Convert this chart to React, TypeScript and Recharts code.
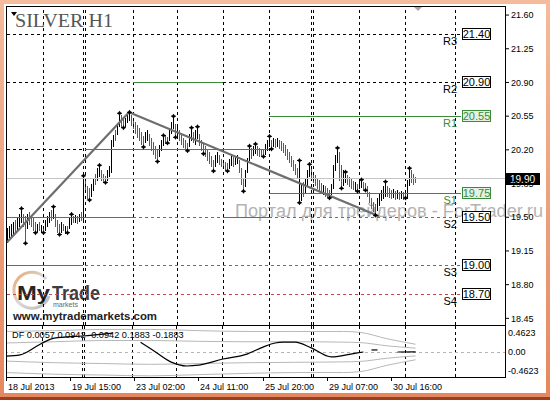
import React from 'react';
import { ComposedChart, Bar, Line, XAxis, YAxis, ReferenceLine } from 'recharts';

// H1 bars (price units)
const highs = [
  19.39, 19.41, 19.43, 19.45, 19.47, 19.49, 19.53, 19.59, 19.53, 19.51,
  19.53, 19.55, 19.51, 19.49, 19.45, 19.43, 19.45, 19.42, 19.41, 19.47,
  19.51, 19.55, 19.58, 19.61, 19.53, 19.47, 19.43, 19.45, 19.43, 19.41,
  19.41, 19.49, 19.53, 19.51, 19.52, 19.51, 19.53, 19.55, 19.93, 19.89,
  19.82, 19.80, 19.85, 19.91, 19.95, 20.01, 20.04, 19.99, 19.95, 19.93,
  19.99, 20.03, 20.30, 20.35, 20.41, 20.47, 20.58, 20.56, 20.53, 20.53,
  20.57, 20.59, 20.56, 20.53, 20.49, 20.46, 20.43, 20.39, 20.34, 20.39,
  20.41, 20.36, 20.32, 20.28, 20.24, 20.20, 20.25, 20.30, 20.35, 20.34,
  20.33, 20.41, 20.49, 20.55, 20.47, 20.45, 20.41, 20.36, 20.32, 20.30,
  20.27, 20.36, 20.43, 20.39, 20.41, 20.44, 20.36, 20.30, 20.26, 20.24,
  20.20, 20.18, 20.14, 20.09, 20.15, 20.18, 20.15, 20.11, 20.09, 20.07,
  20.06, 20.11, 20.15, 20.13, 20.14, 20.15, 20.09, 20.01, 19.91, 19.99,
  20.12, 20.24, 20.22, 20.24, 20.26, 20.24, 20.22, 20.20, 20.20, 20.26,
  20.30, 20.34, 20.30, 20.32, 20.31, 20.32, 20.30, 20.29, 20.27, 20.25,
  20.21, 20.18, 20.14, 20.09, 20.05, 20.01, 20.09, 19.83, 19.87, 19.91,
  19.99, 20.05, 20.01, 19.97, 19.94, 19.91, 19.89, 19.86, 19.83, 19.82,
  19.80, 19.78, 19.85, 20.04, 20.15, 20.22, 20.18, 20.04, 19.99, 19.97,
  19.94, 19.92, 19.90, 19.88, 19.87, 19.85, 19.88, 19.89, 19.87, 19.86,
  19.82, 19.76, 19.70, 19.66, 19.64, 19.70, 19.74, 19.78, 19.82, 19.87,
  19.82, 19.80, 19.78, 19.79, 19.77, 19.78, 19.76, 19.77, 19.76, 19.76,
  19.89, 20.01, 19.99, 19.95, 19.92,
];
const lows = [
  19.24, 19.29, 19.31, 19.33, 19.35, 19.37, 19.41, 19.45, 19.41, 19.23,
  19.39, 19.43, 19.41, 19.37, 19.34, 19.36, 19.37, 19.35, 19.34, 19.37,
  19.41, 19.45, 19.47, 19.49, 19.41, 19.35, 19.32, 19.35, 19.37, 19.34,
  19.34, 19.39, 19.43, 19.45, 19.45, 19.44, 19.46, 19.47, 19.47, 19.76,
  19.70, 19.68, 19.72, 19.78, 19.85, 19.89, 19.93, 19.89, 19.87, 19.86,
  19.89, 19.93, 19.97, 20.24, 20.30, 20.36, 20.45, 20.44, 20.43, 20.45,
  20.49, 20.51, 20.46, 20.43, 20.37, 20.33, 20.30, 20.26, 20.23, 20.28,
  20.30, 20.25, 20.20, 20.16, 20.12, 20.08, 20.14, 20.20, 20.25, 20.27,
  20.27, 20.30, 20.37, 20.43, 20.33, 20.34, 20.30, 20.26, 20.23, 20.21,
  20.19, 20.24, 20.30, 20.28, 20.26, 20.32, 20.25, 20.20, 20.16, 20.14,
  20.09, 20.06, 20.03, 19.98, 20.03, 20.07, 20.05, 20.03, 20.01, 19.99,
  19.98, 20.01, 20.04, 20.03, 20.05, 20.06, 19.97, 19.85, 19.77, 19.82,
  19.97, 20.09, 20.12, 20.15, 20.17, 20.15, 20.14, 20.14, 20.13, 20.16,
  20.20, 20.24, 20.21, 20.24, 20.23, 20.24, 20.22, 20.20, 20.18, 20.15,
  20.11, 20.07, 20.03, 19.99, 19.95, 19.91, 19.65, 19.68, 19.72, 19.76,
  19.82, 19.93, 19.91, 19.87, 19.83, 19.80, 19.78, 19.75, 19.74, 19.72,
  19.71, 19.70, 19.74, 19.80, 19.99, 20.07, 19.89, 19.80, 19.84, 19.87,
  19.85, 19.82, 19.80, 19.79, 19.78, 19.77, 19.80, 19.81, 19.79, 19.78,
  19.72, 19.66, 19.60, 19.56, 19.52, 19.58, 19.63, 19.68, 19.70, 19.72,
  19.72, 19.71, 19.70, 19.71, 19.69, 19.70, 19.69, 19.70, 19.69, 19.70,
  19.70, 19.84, 19.87, 19.85, 19.87,
];
// u = bullish (black), d = bearish (red)
const dirs = [
  'uuuuduuudd', 'uddddududu', 'uududddudu', 'duudududud', 'dduuduuddd',
  'uuuuduuddu', 'uudddddddu', 'uddddduuud', 'duuududddd', 'duuduudddd',
  'dddduudddd', 'duuduudddu', 'uuduuddddu', 'uudududddd', 'dddddduudu',
  'uuddddddud', 'dduuuudduu', 'dddduduudd', 'ddddduuuuu', 'dddudududd',
  'uuddd',
].join('');

const upFractals = [7, 23, 32, 38, 46, 56, 61, 78, 83, 92, 95, 121, 124, 131, 146, 151, 165, 169, 177, 189, 201];
const downFractals = [9, 14, 18, 26, 30, 41, 49, 58, 68, 75, 80, 84, 90, 98, 103, 110, 118, 128, 132, 146, 161, 167, 175, 179, 184, 199];

// trend lines: [fromBar, fromPrice, toBar, toPrice]
const trendLines = [
  [0, 19.24, 61, 20.59],
  [61, 20.59, 186, 19.51],
];

const pivotNames = ['R3', 'R2', 'R1', 'S1', 'S2', 'S3', 'S4'];
const pivotLevels = [21.4, 20.9, 20.55, 19.75, 19.5, 19.0, 18.7];
// [level, fromBar, toBar, style]  k = black dashed, g = green, r = red dashed
const pivotSegments: [number, number, number, string][] = [
  [21.4, 0, 227, 'k'],
  [20.9, 0, 63, 'k'], [20.9, 63, 108, 'g'], [20.9, 108, 227, 'k'],
  [20.55, 131, 227, 'g'],
  [20.2, 0, 39, 'k'], [20.2, 39, 131, 'g'],
  [19.75, 131, 227, 'g'],
  [19.5, 0, 63, 'g'], [19.5, 63, 108, 'r'], [19.5, 108, 131, 'g'], [19.5, 131, 227, 'r'],
  [19.0, 0, 38, 'g'], [19.0, 39, 227, 'r'],
  [18.7, 0, 227, 'r'],
];
const bidPrice = 19.9;
const dayBreaks = [18, 38, 39, 63, 85, 108, 131, 152, 153, 176, 199, 224];
const priceTicks = [18.45, 18.8, 19.15, 19.5, 19.85, 20.2, 20.55, 20.9, 21.25, 21.6];

const dateTickIdx = [0, 32, 64, 96, 128, 160, 192];
const dateLabels = ['18 Jul 2013', '19 Jul 15:00', '23 Jul 02:00', '24 Jul 11:00', '25 Jul 20:00', '29 Jul 07:00', '30 Jul 16:00'];

// DF indicator, pieces of the main line: [bar, value]
const dfSegments: [number, number][][] = [
  [[0, -0.1], [7, -0.07], [17, 0.19], [24, 0.34], [38, 0.39], [53, 0.46]],
  [[67, 0.24], [73, 0.05], [82, -0.24], [90, -0.34], [96, -0.32], [108, -0.17], [120, -0.05], [128, 0.12],
   [134, 0.22], [138, 0.24], [144, 0.24], [152, 0.1], [162, -0.12], [175, -0.02], [178, 0.0]],
  [[182, 0.05], [185, 0.05]],
  [[195, 0.0], [204, 0.0057]],
];
const bandIdx = [0, 24, 48, 72, 96, 120, 144, 168, 176, 190, 204];
const bandOuterUp = [0.5, 0.52, 0.55, 0.55, 0.52, 0.5, 0.5, 0.5, 0.48, 0.32, 0.1883];
const bandInnerUp = [0.22, 0.25, 0.28, 0.28, 0.26, 0.25, 0.25, 0.24, 0.23, 0.15, 0.0942];
const bandInnerDn = [-0.22, -0.26, -0.28, -0.3, -0.28, -0.26, -0.25, -0.24, -0.23, -0.15, -0.0942];
const bandOuterDn = [-0.5, -0.54, -0.56, -0.58, -0.55, -0.52, -0.5, -0.5, -0.48, -0.32, -0.1883];
const subTicks = [-0.4623, 0, 0.4623];

const SLOTS = 250;
const FONT = '"Liberation Sans", Arial, sans-serif';
const GREEN = '#3a8a3a';
const RED = '#c24a4a';
const BEAR = '#d02828';

const mainData = Array.from({ length: SLOTS }, (_, i) => {
  const row: any = { i };
  if (i < highs.length) {
    row.range = [lows[i], highs[i]];
    row.up = dirs[i] === 'u';
  }
  if (upFractals.includes(i)) row.fu = highs[i];
  if (downFractals.includes(i)) row.fd = lows[i];
  trendLines.forEach((t, k) => {
    if (t[0] === i) row['t' + k] = t[1];
    if (t[2] === i) row['t' + k] = t[3];
  });
  return row;
});

const subData = Array.from({ length: SLOTS }, (_, i) => {
  const row: any = { i };
  dfSegments.forEach((seg, k) => seg.forEach(([b, v]) => { if (b === i) row['df' + k] = v; }));
  const k = bandIdx.indexOf(i);
  if (k >= 0) {
    row.ou = bandOuterUp[k];
    row.iu = bandInnerUp[k];
    row.id = bandInnerDn[k];
    row.od = bandOuterDn[k];
  }
  return row;
});

function HLBar(props: any) {
  const { x, y, width, height, payload } = props;
  if (!payload || !payload.range || !Number.isFinite(y)) return <g />;
  const cx = Math.floor(x + width / 2) + 0.5;
  const top = Math.min(y, y + height);
  const bottom = Math.max(y, y + height);
  return <line x1={cx} x2={cx} y1={top} y2={bottom + 1} stroke={payload.up ? '#000' : BEAR} shapeRendering="crispEdges" />;
}

function fractalDot(p: any) {
  const key = 'f' + p.index;
  if (p.value == null || !Number.isFinite(p.cy)) return <g key={key} />;
  const cx = Math.floor(p.cx) + 0.5;
  const cy = p.cy;
  return (
    <g key={key}>
      <path d={`M${cx},${cy - 2.5} L${cx + 1.8},${cy} L${cx},${cy + 2.5} L${cx - 1.8},${cy} Z`} fill="#000" />
      <line x1={cx - 2.5} x2={cx + 2.5} y1={cy} y2={cy} stroke="#000" />
    </g>
  );
}

const pivotTag = (name: string, level: number, green: boolean) => (props: any) => {
  const vb = props.viewBox || {};
  const xEnd = vb.x + (vb.width || 0);
  const yc = Math.round(vb.y);
  const color = green ? GREEN : '#000';
  return (
    <g>
      <rect x={xEnd + 1.5} y={yc - 5.5} width={28} height={11} fill={green ? '#e4f2e4' : '#fff'} stroke={color} />
      <text x={xEnd + 15.5} y={yc + 4} textAnchor="middle" fontSize={11} fontFamily={FONT} fill={color}>{level.toFixed(2)}</text>
      <text x={xEnd - 4} y={yc + 11} textAnchor="end" fontSize={11} fontFamily={FONT} fill={color}>{name}</text>
    </g>
  );
};

const bidTag = (props: any) => {
  const vb = props.viewBox || {};
  const x = vb.x + (vb.width || 0);
  const yc = Math.round(vb.y);
  return (
    <g>
      <rect x={x} y={yc - 6} width={34} height={12} fill="#000" />
      <text x={x + 4} y={yc + 4} fontSize={10} fontFamily={FONT} fill="#fff">{bidPrice.toFixed(2)}</text>
    </g>
  );
};

function DateTick(props: any) {
  const { x, y, payload } = props;
  const label = dateLabels[dateTickIdx.indexOf(payload.value)];
  const px = Math.floor(x) + 0.5;
  return (
    <g>
      <line x1={px} x2={px} y1={y} y2={y + 4} stroke="#000" />
      <text x={px + 1.5} y={y + 13} fontSize={9} fontFamily={FONT} fill="#000">{label}</text>
    </g>
  );
}

const segStyle = (s: string) =>
  s === 'g' ? { stroke: GREEN } : s === 'r' ? { stroke: RED, strokeDasharray: '3 3' } : { stroke: '#000', strokeDasharray: '3 3' };

export default function App() {
  return (
    <div style={{ position: 'relative', width: 550, height: 400, overflow: 'hidden', background: 'linear-gradient(#f4bb9c, #e5875f)' }}>
      <style>{'body{margin:0}'}</style>
      <div style={{ position: 'absolute', left: 4, top: 4, width: 542, height: 389, background: '#fff' }} />
      <div style={{ position: 'absolute', left: 0, bottom: 0, width: 550, height: 3, background: '#9b3f1f' }} />

      {/* logo and watermark under the chart */}
      <svg width={550} height={400} style={{ position: 'absolute', left: 0, top: 0 }}>
        <defs>
          <linearGradient id="ring" x1="0" y1="0" x2="1" y2="1">
            <stop offset="0" stopColor="#e9a66f" />
            <stop offset="0.5" stopColor="#d9d9d9" />
            <stop offset="1" stopColor="#b9b9b9" />
          </linearGradient>
        </defs>
        <text x={235} y={217} fontSize={18} fontFamily={FONT} fill="#b4b4b4" textLength={308} lengthAdjust="spacingAndGlyphs">
          Портал для трейдеров - ForTrader.ru
        </text>
        <path d="M46,279 A18,18 0 1,0 49,296" fill="none" stroke="url(#ring)" strokeWidth={3} />
        <text x={17} y={300} fontSize={21} fontWeight="bold" fontFamily={FONT} fill="#262626" textLength={33} lengthAdjust="spacingAndGlyphs">My</text>
        <text x={52} y={300} fontSize={21} fontWeight="bold" fontFamily={FONT} fill="#3c3c3c" textLength={48} lengthAdjust="spacingAndGlyphs">Trade</text>
        <text x={53} y={307} fontSize={7} fontFamily={FONT} fill="#666">markets</text>
        <text x={13} y={320} fontSize={11.5} fontWeight="bold" fontFamily={FONT} fill="#222" textLength={144} lengthAdjust="spacingAndGlyphs">
          www.mytrademarkets.com
        </text>
      </svg>

      <div style={{ position: 'absolute', left: 0, top: 0 }}>
        <ComposedChart width={550} height={326} data={mainData} margin={{ top: 6, right: 0, bottom: 1, left: 6 }} barCategoryGap={0}>
          <XAxis dataKey="i" type="category" hide />
          <YAxis
            orientation="right"
            width={44}
            domain={[18.381, 21.694]}
            allowDataOverflow
            ticks={priceTicks}
            interval={0}
            axisLine={false}
            tickSize={3}
            tickMargin={2}
            tickLine={{ stroke: '#000' }}
            tick={{ fontSize: 9, fontFamily: FONT, fill: '#000' }}
            tickFormatter={(v: number) => v.toFixed(2)}
          />
          {dayBreaks.map((d) => (
            <ReferenceLine key={'d' + d} x={d} stroke="#000" strokeDasharray="3 3" shapeRendering="crispEdges" />
          ))}
          <ReferenceLine y={bidPrice} stroke="#c4c4c4" shapeRendering="crispEdges" label={bidTag} />
          {pivotSegments.map(([lvl, a, b, s], k) => {
            const p = pivotLevels.indexOf(lvl);
            const tagged = b === 227 && p >= 0;
            return (
              <ReferenceLine
                key={'p' + k}
                segment={[{ x: a, y: lvl }, { x: b, y: lvl }]}
                {...segStyle(s)}
                shapeRendering="crispEdges"
                label={tagged ? pivotTag(pivotNames[p], lvl, s === 'g') : undefined}
              />
            );
          })}
          <Bar dataKey="range" shape={HLBar} isAnimationActive={false} />
          {trendLines.map((_, k) => (
            <Line key={'t' + k} dataKey={'t' + k} connectNulls stroke="#6e6e6e" strokeWidth={2.2} dot={false} activeDot={false} isAnimationActive={false} />
          ))}
          <Line dataKey="fu" stroke="none" dot={fractalDot} activeDot={false} isAnimationActive={false} />
          <Line dataKey="fd" stroke="none" dot={fractalDot} activeDot={false} isAnimationActive={false} />
        </ComposedChart>
      </div>

      <div style={{ position: 'absolute', left: 0, top: 325 }}>
        <ComposedChart width={550} height={75} data={subData} margin={{ top: 1, right: 0, bottom: 0, left: 6 }}>
          <XAxis
            dataKey="i"
            type="category"
            height={23}
            ticks={dateTickIdx}
            interval={0}
            axisLine={false}
            tickLine={false}
            tickSize={0}
            tickMargin={0}
            tick={DateTick}
          />
          <YAxis
            orientation="right"
            width={44}
            domain={[-0.608, 0.633]}
            allowDataOverflow
            ticks={subTicks}
            interval={0}
            axisLine={false}
            tickLine={false}
            tickSize={0}
            tickMargin={2}
            tick={{ fontSize: 9, fontFamily: FONT, fill: '#000' }}
            tickFormatter={(v: number) => (v === 0 ? '0.00' : v.toFixed(4))}
          />
          {dayBreaks.map((d) => (
            <ReferenceLine key={'sd' + d} x={d} stroke="#000" strokeDasharray="3 3" shapeRendering="crispEdges" />
          ))}
          <ReferenceLine y={0} stroke="#b4b4b4" strokeDasharray="3 3" shapeRendering="crispEdges" />
          {['ou', 'iu', 'id', 'od'].map((k) => (
            <Line key={k} dataKey={k} type="monotone" connectNulls stroke="#b8b8b8" strokeWidth={1} dot={false} activeDot={false} isAnimationActive={false} />
          ))}
          {dfSegments.map((_, k) => (
            <Line key={'df' + k} dataKey={'df' + k} type="monotone" connectNulls stroke="#000" strokeWidth={1.2} dot={false} activeDot={false} isAnimationActive={false} />
          ))}
        </ComposedChart>
      </div>

      {/* frames and captions */}
      <svg width={550} height={400} style={{ position: 'absolute', left: 0, top: 0, pointerEvents: 'none' }}>
        <rect x={6.5} y={6.5} width={499} height={319} fill="none" stroke="#000" />
        <rect x={6.5} y={325.5} width={499} height={52} fill="none" stroke="#000" />
        <polygon points="11,12 17,12 14,16" fill="#000" />
        <polygon points="414,7 422,7 418,11" fill="#a8a8a8" />
        <text x={15} y={27} fontSize={19} fontFamily='"Liberation Serif", "Times New Roman", serif' fill="#555" textLength={98} lengthAdjust="spacingAndGlyphs">
          SILVER H1
        </text>
        <text x={12} y={338} fontSize={9.2} fontFamily={FONT} fill="#000">DF 0.0057 0.0942 -0.0942 0.1883 -0.1883</text>
      </svg>
    </div>
  );
}
